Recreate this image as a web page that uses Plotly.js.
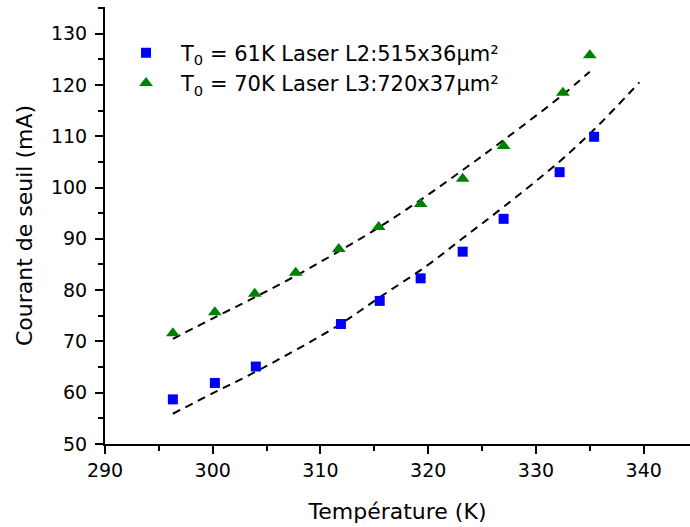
<!DOCTYPE html>
<html>
<head>
<meta charset="utf-8">
<script src="https://cdn.plot.ly/plotly-3.0.1.min.js"></script>
<style>html,body{margin:0;padding:0;background:#fff;}#chart{width:690px;height:527px;}</style>
</head>
<body>
<div id="chart"></div>
<script>
const tempL2 = [296.3, 300.2, 304.0, 311.9, 315.5, 319.3, 323.2, 327.0, 332.2, 335.4];
const currentL2 = [58.7, 61.9, 65.1, 73.4, 77.9, 82.3, 87.5, 93.9, 103.0, 109.9];
const tempL3 = [296.3, 300.2, 303.9, 307.7, 311.7, 315.4, 319.3, 323.2, 327.0, 332.5, 335.0];
const currentL3 = [71.6, 75.7, 79.3, 83.4, 88.0, 92.3, 96.8, 101.7, 108.1, 118.5, 125.8];
// Fit curves
const fitTempL2 = [296.3, 300.2, 304.0, 311.4, 315.5, 319.9, 323.2, 327.1, 332.2, 335.4, 339.6];
const fitCurrentL2 = [55.9, 60.1, 64.1, 72.8, 78.6, 84.8, 90.1, 96.4, 105.1, 111.3, 120.5];
const fitTempL3 = [296.3, 300.2, 303.9, 307.7, 311.5, 315.4, 319.3, 323.2, 327.1, 332.5, 335.0];
const fitCurrentL3 = [70.5, 74.7, 78.6, 82.8, 87.3, 92.2, 97.6, 103.4, 109.4, 118.1, 122.6];
const seriesNames = ['T<sub>0</sub> = 61K Laser L2:515x36µm²', 'T<sub>0</sub> = 70K Laser L3:720x37µm²'];
const xTitle = 'Température (K)';
const yTitle = 'Courant de seuil (mA)';

const FONT = 'DejaVu Sans, Liberation Sans, Arial, sans-serif';
const dashLine = {color: '#000', width: 2, dash: '8px,6px', shape: 'spline'};

const traces = [
  {x: fitTempL2, y: fitCurrentL2, mode: 'lines', line: dashLine, showlegend: false, hoverinfo: 'skip'},
  {x: fitTempL3, y: fitCurrentL3, mode: 'lines', line: dashLine, showlegend: false, hoverinfo: 'skip'},
  {x: tempL2, y: currentL2, mode: 'markers', name: seriesNames[0], legendgroup: 'a',
   marker: {symbol: 'square', size: 10, color: '#0000ff'}},
  {x: tempL3, y: currentL3, mode: 'markers', name: seriesNames[1], legendgroup: 'b',
   marker: {symbol: 'triangle-up', size: 12, color: '#008000'}}
];

const axisCommon = {
  showline: true, linecolor: '#000', linewidth: 2, mirror: false,
  showgrid: false, zeroline: false,
  ticks: 'outside', ticklen: 8, tickwidth: 2, tickcolor: '#000',
  tickfont: {family: FONT, size: 19, color: '#000'},
};

const layout = {
  width: 690, height: 527,
  margin: {l: 105, r: 0, t: 7, b: 83},
  paper_bgcolor: '#fff', plot_bgcolor: '#fff',
  font: {family: FONT, color: '#000'},
  xaxis: Object.assign({}, axisCommon, {
    range: [290, 344.3], dtick: 10, tick0: 290,
    minor: {dtick: 5, ticks: 'outside', ticklen: 5, tickwidth: 2, tickcolor: '#000'},
    title: {text: xTitle, font: {family: FONT, size: 22, color: '#000'}, standoff: 24}
  }),
  yaxis: Object.assign({}, axisCommon, {
    range: [50, 135.2], dtick: 10, tick0: 50,
    minor: {dtick: 5, ticks: 'outside', ticklen: 5, tickwidth: 2, tickcolor: '#000'},
    ticklabelstandoff: 4,
    title: {text: yTitle, font: {family: FONT, size: 22, color: '#000'}, standoff: 12}
  }),
  legend: {x: 0.0103, xanchor: 'left', y: 0.9415, yanchor: 'top',
    itemwidth: 60, tracegroupgap: 12, traceorder: 'normal',
    bgcolor: 'rgba(0,0,0,0)', borderwidth: 0,
    font: {family: FONT, size: 21, color: '#000'}},
  showlegend: true
};

Plotly.newPlot('chart', traces, layout, {displayModeBar: false, staticPlot: true});
</script>
</body>
</html>
